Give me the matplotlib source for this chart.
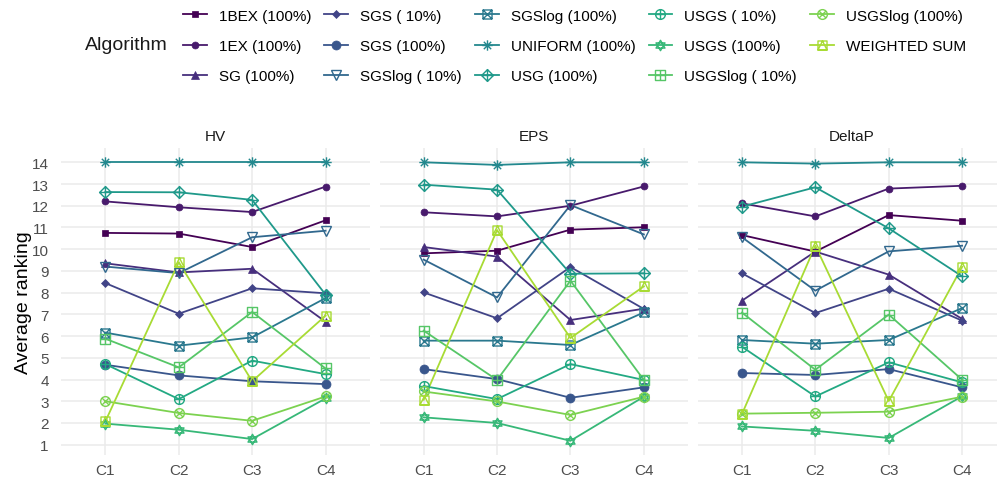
import matplotlib
matplotlib.use("Agg")
import matplotlib.pyplot as plt
import numpy as np
from matplotlib.path import Path
from matplotlib.lines import Line2D

plt.rcParams["font.family"] = ["Liberation Sans", "DejaVu Sans"]

metrics = ["HV", "EPS", "DeltaP"]
cases = ["C1", "C2", "C3", "C4"]
algorithms = [
    "1BEX (100%)", "1EX (100%)", "SG (100%)", "SGS ( 10%)", "SGS (100%)",
    "SGSlog ( 10%)", "SGSlog (100%)", "UNIFORM (100%)", "USG (100%)",
    "USGS ( 10%)", "USGS (100%)", "USGSlog ( 10%)", "USGSlog (100%)",
    "WEIGHTED SUM",
]

# average ranking per algorithm (rows) and case C1..C4 (columns)
hv_rank = [
    [10.75, 10.72, 10.10, 11.33],
    [12.20, 11.93, 11.71, 12.88],
    [9.35, 8.93, 9.10, 6.66],
    [8.44, 7.03, 8.20, 7.97],
    [4.68, 4.19, 3.92, 3.79],
    [9.20, 8.90, 10.55, 10.85],
    [6.16, 5.56, 5.94, 7.75],
    [14.00, 14.00, 14.00, 14.00],
    [12.63, 12.62, 12.27, 7.91],
    [4.71, 3.10, 4.87, 4.25],
    [1.97, 1.69, 1.26, 3.13],
    [5.88, 4.56, 7.11, 4.51],
    [3.00, 2.46, 2.10, 3.22],
    [2.07, 9.40, 3.92, 6.94],
]
eps_rank = [
    [9.81, 9.93, 10.90, 11.01],
    [11.70, 11.51, 12.00, 12.89],
    [10.10, 9.66, 6.74, 7.26],
    [8.01, 6.82, 9.18, 7.25],
    [4.48, 4.02, 3.16, 3.64],
    [9.52, 7.78, 12.03, 10.68],
    [5.79, 5.79, 5.59, 7.09],
    [14.00, 13.88, 14.00, 14.00],
    [12.97, 12.74, 8.87, 8.89],
    [3.70, 3.10, 4.71, 3.98],
    [2.26, 2.00, 1.18, 3.21],
    [6.25, 3.98, 8.55, 3.98],
    [3.45, 2.99, 2.37, 3.21],
    [3.07, 10.88, 5.91, 8.29],
]
deltap_rank = [
    [10.65, 9.89, 11.57, 11.31],
    [12.11, 11.51, 12.79, 12.92],
    [7.63, 9.89, 8.83, 6.79],
    [8.89, 7.06, 8.18, 6.71],
    [4.30, 4.21, 4.48, 3.64],
    [10.55, 8.09, 9.90, 10.16],
    [5.82, 5.65, 5.82, 7.29],
    [14.00, 13.94, 14.00, 14.00],
    [11.96, 12.85, 10.96, 8.75],
    [5.51, 3.22, 4.79, 3.87],
    [1.84, 1.64, 1.31, 3.23],
    [7.08, 4.45, 6.99, 3.99],
    [2.43, 2.47, 2.52, 3.21],
    [2.41, 10.16, 3.01, 9.19],
]
y_ticks = list(range(1, 15))


# --- open compound shapes ---------------------------------------------------
M, L, C = Path.MOVETO, Path.LINETO, Path.CLOSEPOLY


def poly(pts):
    verts = list(pts) + [pts[0]]
    return Path(verts, [M] + [L] * (len(pts) - 1) + [C])


def segs(pairs):
    verts, codes = [], []
    for a, b in pairs:
        verts += [a, b]
        codes += [M, L]
    return Path(verts, codes)


sq = poly([(-1, -1), (1, -1), (1, 1), (-1, 1)])
circ = Path.unit_circle()
plus = segs([((-1, 0), (1, 0)), ((0, -1), (0, 1))])
d = 0.7071
cross_in = segs([((-d, -d), (d, d)), ((-d, d), (d, -d))])
cross_sq = segs([((-1, -1), (1, 1)), ((-1, 1), (1, -1))])

m_square_x = Path.make_compound_path(sq, cross_sq)
m_asterisk = Path.make_compound_path(plus, cross_in)
m_diamond_plus = Path.make_compound_path(poly([(0, 1), (1, 0), (0, -1), (-1, 0)]), plus)
m_circle_plus = Path.make_compound_path(circ, plus)
m_star = Path.make_compound_path(poly([(-0.95, -0.55), (0.95, -0.55), (0, 1.1)]),
                                 poly([(-0.95, 0.55), (0.95, 0.55), (0, -1.1)]))
m_square_plus = Path.make_compound_path(sq, plus)
m_circle_x = Path.make_compound_path(circ, cross_in)
m_square_tri = Path.make_compound_path(sq, poly([(-1, -1), (1, -1), (0, 1)]))

# (marker, size, filled)
shapes = [
    ("s", 5.0, True),
    ("o", 5.0, True),
    ("^", 6.0, True),
    ("D", 3.6, True),
    ("o", 6.5, True),
    ("v", 7.0, False),
    (m_square_x, 6.5, False),
    (m_asterisk, 7.5, False),
    (m_diamond_plus, 8.5, False),
    (m_circle_plus, 7.0, False),
    (m_star, 7.5, False),
    (m_square_plus, 6.5, False),
    (m_circle_x, 7.0, False),
    (m_square_tri, 6.5, False),
]
colors = plt.cm.viridis(np.linspace(0, 0.87, len(algorithms)))


def style(i):
    mk, ms, filled = shapes[i]
    return dict(marker=mk, markersize=ms, color=colors[i],
                markerfacecolor=colors[i] if filled else "none",
                markeredgecolor=colors[i], markeredgewidth=1.0 if not filled else 0.5)


fig = plt.figure(figsize=(9.97, 4.81), dpi=100)
W, H = 997.0, 481.0
panel_w, gap = 308.3, 10.0
x0, top_px, bot_px = 61.3, 149.4, 455.7
x = np.arange(len(cases))

for k, (name, ranks) in enumerate(zip(metrics, [hv_rank, eps_rank, deltap_rank])):
    left = x0 + k * (panel_w + gap)
    ax = fig.add_axes([left / W, 1 - bot_px / H, panel_w / W, (bot_px - top_px) / H])
    for i in range(len(algorithms)):
        ax.plot(x, ranks[i], color=colors[i], lw=1.3, zorder=2)
    for i in range(len(algorithms)):
        st = style(i)
        st.pop("color")
        ax.plot(x, ranks[i], linestyle="none", zorder=3, **st)
    ax.set_xlim(-0.6, 3.6)
    ax.set_ylim(0.54, 14.64)
    ax.set_xticks(x)
    ax.set_xticklabels(cases)
    ax.set_yticks(y_ticks)
    ax.grid(True, color="#EBEBEB", lw=1.1, zorder=0)
    ax.set_axisbelow(True)
    for s in ax.spines.values():
        s.set_visible(False)
    ax.tick_params(length=0, labelsize=11, labelcolor="#4D4D4D")
    ax.tick_params(axis="x", pad=6)
    ax.tick_params(axis="y", pad=9)
    if k == 0:
        ax.set_ylabel("Average ranking", fontsize=14, labelpad=0)
    else:
        ax.set_yticklabels([])
    ax.set_title(name, fontsize=11, color="#1A1A1A", pad=6)

handles = [Line2D([], [], lw=1.3, **style(i)) for i in range(len(algorithms))]
fig.legend(handles, algorithms, loc="upper left", bbox_to_anchor=(183 / W, 1 - 9.5 / H),
           ncol=5, frameon=False, fontsize=11, handlelength=1.55, handletextpad=0.8,
           columnspacing=0.85, labelspacing=1.08, borderpad=0, borderaxespad=0,
           numpoints=1)
fig.text(85 / W, 1 - 45.7 / H, "Algorithm", fontsize=14, va="center", ha="left",
         color="#1A1A1A")

fig.savefig("out.png", dpi=100)
